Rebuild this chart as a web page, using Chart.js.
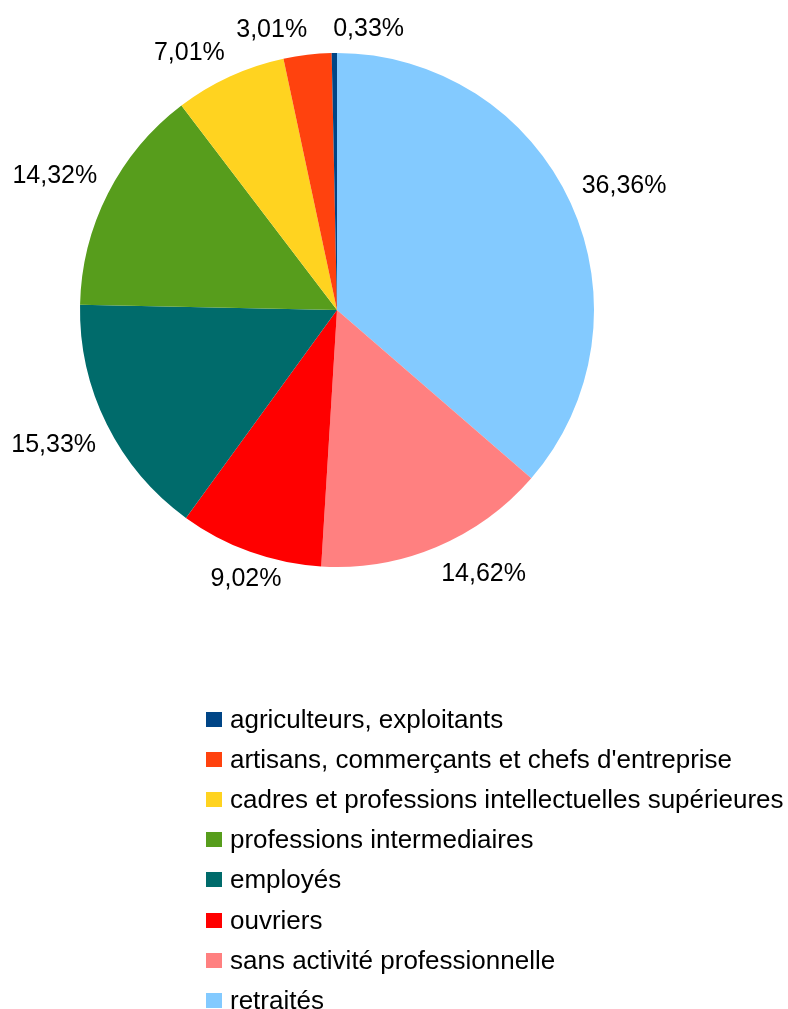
<!DOCTYPE html>
<html>
<head>
<meta charset="utf-8">
<script src="https://cdn.jsdelivr.net/npm/chart.js@4"></script>
<style>
  html, body { margin: 0; padding: 0; background: #ffffff; }
  body { width: 788px; height: 1009px; position: relative; overflow: hidden;
         font-family: "Liberation Sans", Arial, sans-serif; }
  #wrap { position: absolute; left: 0; top: 0; width: 788px; height: 660px; }
  #legend { position: absolute; left: 0; top: 0; width: 788px; height: 1009px; pointer-events: none; }
  .item { position: absolute; left: 206px; height: 30px; white-space: nowrap; }
  .sw { position: absolute; left: 0; width: 16px; height: 15px; }
  .lab { position: absolute; left: 24px; font-size: 26px; line-height: 26px; color: #000; }
</style>
</head>
<body>
<div id="wrap"><canvas id="c" width="788" height="660"></canvas></div>
<div id="legend"></div>
<script>
// ---- data (legend order) ----
const categories = [
  "agriculteurs, exploitants",
  "artisans, commerçants et chefs d'entreprise",
  "cadres et professions intellectuelles supérieures",
  "professions intermediaires",
  "employés",
  "ouvriers",
  "sans activité professionnelle",
  "retraités"
];
const values = [0.33, 3.01, 7.01, 14.32, 15.33, 9.02, 14.62, 36.36];
const colors = ["#004586", "#ff420e", "#ffd320", "#579d1c", "#006b6b", "#ff0000", "#ff8080", "#83caff"];

// Pie is drawn clockwise from the top starting with the last category
const chartLabels = categories.slice().reverse();
const chartValues = values.slice().reverse();
const chartColors = colors.slice().reverse();

const FONT = '"Liberation Sans", Arial, sans-serif';
const LABEL_FS = 25;

function fmt(v) { return v.toFixed(2).replace('.', ',') + '%'; }

const outsideLabels = {
  id: 'outsideLabels',
  afterDatasetsDraw(chart) {
    const ctx = chart.ctx;
    const meta = chart.getDatasetMeta(0);
    const fs = LABEL_FS;
    const asc = 0.905 * fs, h = 1.117 * fs;
    ctx.save();
    ctx.font = fs + 'px ' + FONT;
    ctx.fillStyle = '#000';
    ctx.textBaseline = 'alphabetic';
    ctx.textAlign = 'left';
    const boxes = [];
    meta.data.forEach((arc, i) => {
      const p = arc.getProps(['x', 'y', 'startAngle', 'endAngle', 'outerRadius'], true);
      const mid = (p.startAngle + p.endAngle) / 2;
      const R = p.outerRadius + 12;
      const ax = p.x + Math.cos(mid) * R;
      const ay = p.y + Math.sin(mid) * R;
      let th = (mid * 180 / Math.PI + 90) % 360; if (th < 0) th += 360;
      const txt = fmt(chartValues[i]);
      const w = ctx.measureText(txt).width;
      let left, top;
      if (th >= 337.5 || th < 22.5) { left = ax - w / 2; top = ay - h; }
      else if (th < 67.5) { left = ax; top = ay - h; }
      else if (th < 112.5) { left = ax; top = ay - h / 2; }
      else if (th < 157.5) { left = ax; top = ay; }
      else if (th < 202.5) { left = ax - w / 2; top = ay; }
      else if (th < 247.5) { left = ax - w; top = ay; }
      else if (th < 292.5) { left = ax - w; top = ay - h / 2; }
      else { left = ax - w; top = ay - h; }
      boxes.push({ txt, left, top, w });
    });
    // resolve overlaps by pushing neighbours apart horizontally
    const gap = 26;
    for (let a = 0; a < boxes.length; a++) {
      for (let b = a + 1; b < boxes.length; b++) {
        const A = boxes[a], B = boxes[b];
        const vOver = Math.abs(A.top - B.top) < h;
        const hOver = A.left < B.left + B.w && B.left < A.left + A.w;
        if (vOver && hOver) {
          const ca = A.left + A.w / 2, cb = B.left + B.w / 2;
          const need = (A.w + B.w) / 2 + gap;
          const cur = Math.abs(ca - cb);
          const shift = (need - cur) / 2;
          const sgn = ca <= cb ? 1 : -1;
          A.left -= sgn * shift; B.left += sgn * shift;
        }
      }
    }
    boxes.forEach(bx => ctx.fillText(bx.txt, bx.left, bx.top + asc));
    ctx.restore();
  }
};

new Chart(document.getElementById('c'), {
  type: 'pie',
  data: {
    labels: chartLabels,
    datasets: [{
      data: chartValues,
      backgroundColor: chartColors,
      borderWidth: 0,
      hoverOffset: 0
    }]
  },
  options: {
    responsive: false,
    animation: false,
    rotation: 0,
    layout: { padding: { left: 80, right: 194, top: 53, bottom: 93 } },
    plugins: {
      legend: { display: false },
      tooltip: { enabled: false }
    }
  },
  plugins: [outsideLabels]
});

// HTML legend (real text)
const legend = document.getElementById('legend');
categories.forEach((name, i) => {
  const it = document.createElement('div');
  it.className = 'item';
  it.style.top = (712 + i * 40.1) + 'px';
  const sw = document.createElement('div');
  sw.className = 'sw';
  sw.style.background = colors[i];
  const lb = document.createElement('div');
  lb.className = 'lab';
  lb.style.top = '-6px';
  lb.textContent = name;
  it.appendChild(sw); it.appendChild(lb);
  legend.appendChild(it);
});
</script>
</body>
</html>
